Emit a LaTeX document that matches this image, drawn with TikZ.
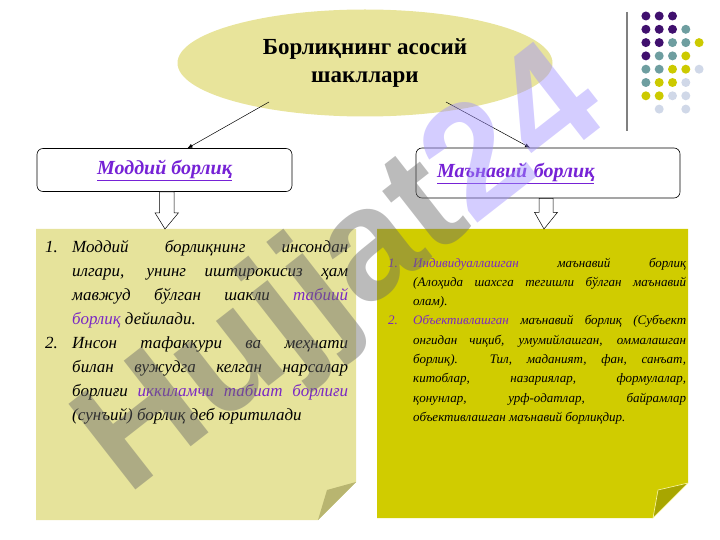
\documentclass[tikz,border=0pt]{standalone}
\usepackage{fontspec}
\setmainfont{Liberation Serif}
\newfontfamily\markfont{Liberation Sans}
\usetikzlibrary{arrows.meta,positioning,calc,shapes.geometric}

\definecolor{titlefill}{RGB}{232,228,155}
\definecolor{notelight}{RGB}{230,227,155}
\definecolor{notedark}{RGB}{208,204,0}
\definecolor{foldlight}{RGB}{184,181,112}
\definecolor{folddark}{RGB}{168,166,0}
\definecolor{foldedge}{RGB}{250,246,170}
\definecolor{linkviolet}{RGB}{118,34,214}
\definecolor{termpurple}{RGB}{122,40,196}
\definecolor{dotpurple}{RGB}{64,16,110}
\definecolor{dotteal}{RGB}{110,158,160}
\definecolor{dotyellow}{RGB}{204,202,0}
\definecolor{dotblue}{RGB}{208,216,232}
\definecolor{markgray}{RGB}{105,105,105}
\definecolor{marklav}{RGB}{160,145,255}

\newcommand{\term}[1]{\textcolor{termpurple}{#1}}
\newcommand{\notelabel}[1]{#1\hfil}
\newenvironment{notelist}[1]{%
  \begin{list}{\arabic{enumi}.}{\usecounter{enumi}%
    \setlength{\leftmargin}{#1}\setlength{\labelsep}{6pt}%
    \setlength{\labelwidth}{\dimexpr#1-6pt\relax}%
    \setlength{\itemsep}{0pt}\setlength{\parsep}{0pt}%
    \setlength{\topsep}{0pt}\setlength{\partopsep}{0pt}%
    \let\makelabel\notelabel}}{\end{list}}

\tikzset{
  topic/.style={ellipse,fill=titlefill,minimum width=375pt,minimum height=107pt,
    inner sep=0pt,align=center,font=\bfseries\fontsize{23}{28}\selectfont},
  kindbox/.style={draw,rounded corners=6pt,fill=white,line width=0.6pt,inner sep=0pt,
    font=\bfseries\itshape\fontsize{20}{22}\selectfont,text=linkviolet},
  link/.style={-{Latex[length=5pt,width=4pt]},line width=0.5pt},
  hollow/.style={draw,fill=white,line width=0.5pt},
  dot/.style={circle,inner sep=0pt,minimum size=9pt}
}

\begin{document}
\begin{tikzpicture}[x=1pt,y=-1pt]
	\useasboundingbox (0,0) rectangle (720,540);
	% notes
	\fill[notelight] (36,229) -- (356,229) -- (356,482) -- (318,520) -- (36,520) -- cycle;
	\fill[foldlight] (356,482) -- (318,520) -- (327,490) -- cycle;
	\fill[notedark] (377,229) -- (688,229) -- (688,483) -- (653,518) -- (377,518) -- cycle;
	\filldraw[fill=folddark,draw=foldedge,line width=0.6pt] (688,483) -- (653,518) -- (658,490) -- cycle;
	% corner dots
	\draw[gray,line width=1.4pt] (627,12) -- (627,131);
	\foreach \c/\r/\col in {1/1/dotpurple,2/1/dotpurple,3/1/dotpurple,
		1/2/dotpurple,2/2/dotpurple,3/2/dotpurple,4/2/dotteal,
		1/3/dotpurple,2/3/dotpurple,3/3/dotteal,4/3/dotteal,5/3/dotyellow,
		1/4/dotpurple,2/4/dotteal,3/4/dotteal,4/4/dotyellow,
		1/5/dotteal,2/5/dotteal,3/5/dotyellow,4/5/dotyellow,5/5/dotblue,
		1/6/dotteal,2/6/dotyellow,3/6/dotyellow,4/6/dotblue,
		1/7/dotyellow,2/7/dotyellow,3/7/dotblue,4/7/dotblue,
		2/8/dotblue,4/8/dotblue}
		\node[dot,fill=\col] (dot\c\r) at ({632.6+13.3*\c},{2.7+13.3*\r}) {};
	% title and kinds
	\node[topic] (title) at (365,63) {Борлиқнинг асосий\\шакллари};
	\node[kindbox,minimum width=255pt,minimum height=43pt] (material) at (164.5,170)
		{\underline{Моддий борлиқ}};
	\node[kindbox,minimum height=50pt,text width=222pt,inner xsep=21pt,align=left] (spiritual) at (548,173)
		{\underline{Маънавий борлиқ}};
	\draw[link] ($(title.center)+(-96,39)$) -- ($(material.north)+(23,0)$);
	\draw[link] ($(title.center)+(81,39)$) -- ($(spiritual.north)+(-18,0)$);
	% hollow arrows
	\draw[hollow] ($(material.south)+(-5,0)$) -- ++(0,21) -- ++(-4.5,0) -- (165,229)
		-- ($(material.south)+(14,21)$) -- ++(-4.5,0) -- ++(0,-21) -- cycle;
	\draw[hollow] ($(spiritual.south)+(-9,0)$) -- ++(0,14) -- ++(-4.5,0) -- (544,229)
		-- ($(spiritual.south)+(9.5,14)$) -- ++(-4.5,0) -- ++(0,-14) -- cycle;
	% texts
	\node[anchor=base west,inner sep=0pt] (materiallist) at (45,252) {%
		\begin{minipage}[t]{303pt}
		\fontsize{17}{24}\selectfont\itshape
		\begin{notelist}{27pt}
		\item Моддий борлиқнинг инсондан\linebreak илгари, унинг иштирокисиз ҳам\linebreak
		мавжуд бўлган шакли \term{табиий}\linebreak \term{борлиқ} дейилади.
		\item Инсон тафаккури ва меҳнати\linebreak билан вужудга келган нарсалар\linebreak
		борлиғи \term{иккиламчи табиат борлиғи}\linebreak (сунъий) борлиқ деб юритилади
		\end{notelist}
		\end{minipage}};
	\node[anchor=base west,inner sep=0pt] (spirituallist) at (388,267) {%
		\begin{minipage}[t]{298pt}
		\fontsize{13}{19.3}\selectfont\itshape
		\renewcommand{\notelabel}[1]{\term{#1}\hfil}
		\begin{notelist}{25pt}
		\item \term{Индивидуаллашган} маънавий борлиқ\linebreak (Алоҳида шахсга тегишли бўлган маънавий\linebreak олам).
		\item \term{Объективлашган} маънавий борлиқ (Субъект\linebreak онгидан чиқиб, умумийлашган, оммалашган\linebreak
		борлиқ). Тил, маданият, фан, санъат,\linebreak китоблар, назариялар, формулалар,\linebreak
		қонунлар, урф-одатлар, байрамлар\linebreak объективлашган маънавий борлиқдир.
		\end{notelist}
		\end{minipage}};
	% watermark
	\node[rotate=38,text opacity=0.45,inner sep=0pt] (mark) at (345,275)
		{\markfont\bfseries\fontsize{158}{158}\selectfont\textcolor{markgray}{Hujjat}\textcolor{marklav}{24}};
\end{tikzpicture}
\end{document}
